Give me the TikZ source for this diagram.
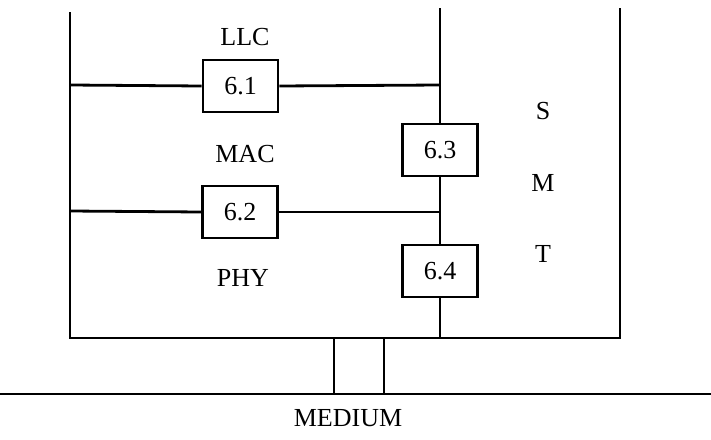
\documentclass[tikz,border=0pt]{standalone}
\usepackage{fontspec}
\setmainfont{Liberation Serif}
\begin{document}
\begin{tikzpicture}[x=1pt,y=-1pt,
  line/.style={line width=2.8pt},
  blk/.style={draw,line width=2.8pt,minimum width=75pt,minimum height=52pt,inner sep=0pt,font=\fontsize{26}{30}\selectfont},
  lbl/.style={inner sep=0pt,font=\fontsize{26}{30}\selectfont}]
\useasboundingbox (0,0) rectangle (711,439);
% corner coordinates
\coordinate (lt) at (70,12);
\coordinate (lb) at (70,338);
\coordinate (mt) at (440,8);
\coordinate (mb) at (440,338);
\coordinate (rt) at (620,8);
\coordinate (rb) at (620,338);
\coordinate (l1) at (70,85);
\coordinate (r1) at (440,85);
\coordinate (l2) at (70,211);
\coordinate (r2) at (440,212);
\coordinate (p1) at (334,338);
\coordinate (q1) at (334,394);
\coordinate (p2) at (384,338);
\coordinate (q2) at (384,394);
\coordinate (ml) at (0,394);
\coordinate (mr) at (711,394);
% boxes
\node[blk] (b61) at (240.5,86) {6.1};
\node[blk] (b62) at (240,212) {6.2};
\node[blk] (b63) at (440,150) {6.3};
\node[blk] (b64) at (440,271) {6.4};
% labels
\node[lbl] (llc) at (245,37) {LLC};
\node[lbl] (mac) at (245,154) {MAC};
\node[lbl] (phy) at (243,278) {PHY};
\node[lbl] (s) at (543,111) {S};
\node[lbl] (m) at (543,183) {M};
\node[lbl] (t) at (543,254) {T};
\node[lbl] (med) at (348,418) {MEDIUM};
% lines
\draw[line] (lt) -- (lb) -- (rb) -- (rt);
\draw[line] (mt) -- (b63.north);
\draw[line] (b63.south) -- (b64.north);
\draw[line] (b64.south) -- (mb);
\draw[line] (l1) -- (b61.west);
\draw[line] (b61.east) -- (r1);
\draw[line] (l2) -- (b62.west);
\draw[line] (b62.east) -- (r2);
\draw[line] (p1) -- (q1);
\draw[line] (p2) -- (q2);
\draw[line] (ml) -- (mr);
\end{tikzpicture}
\end{document}
